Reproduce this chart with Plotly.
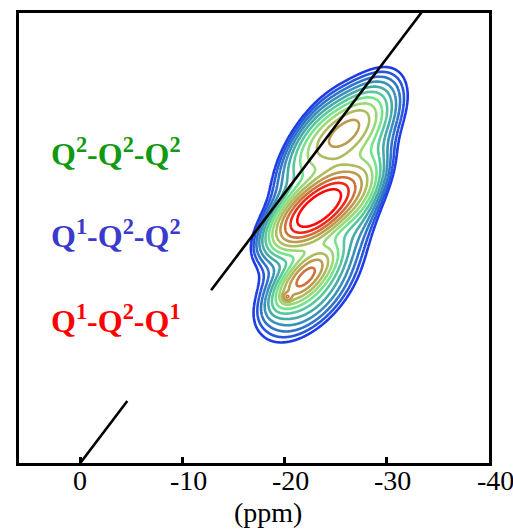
import numpy as np
import plotly.graph_objects as go

# --- 29Si DQ-SQ correlation spectrum, modelled as a sum of 2D Gaussian peaks ---
# envelope, Q1-Q2-Q2 (main), Q1-Q2-Q1 core + base, Q2-Q2-Q2 core + base,
# shoulder, left and right wings
peak_sq = [-24.94, -23.28, -22.00, -22.49, -25.62, -27.48, -20.24, -22.00, -27.87]
peak_dq = [-41.68, -37.70, -27.54, -26.22, -48.75, -51.69, -24.59, -46.10, -40.21]
peak_sd_sq = [3.794, 2.441, 1.644, 3.006, 2.275, 2.276, 0.293, 2.198, 1.439]
peak_sd_dq = [9.012, 3.110, 2.476, 4.971, 3.085, 3.748, 0.442, 5.292, 5.000]
peak_rho = [0.698, 0.672, 0.713, 0.530, 0.594, 0.508, 0.0, 0.720, 0.541]
peak_amp = [0.14, 1.00, 0.37, 0.15, 0.27, 0.085, 0.18, 0.09, 0.08]

# geometric contour levels (relative intensity)
level_low = 0.04
level_high = 0.80
n_levels = 13
level_colors = ['#1e3ce6', '#2856dc', '#2f74c8', '#3a90b8', '#46aaa8', '#58c89c',
                '#74e48c', '#9ad878', '#aebc60', '#bc9a4e', '#d0703a', '#ec2a1c', '#ff0808']

# axes
sq_range = [6, -40]
dq_range = [0, -66.7]
tick_vals = [0, -10, -20, -30, -40]
tick_text = ['0', '-10', '-20', '-30', '-40']
# diagonal DQ = 2*SQ, drawn as two pieces
diag_pieces = [(0.0, -4.6), (-12.8, -34.0)]

labels = ['Q<sup>2</sup>-Q<sup>2</sup>-Q<sup>2</sup>',
          'Q<sup>1</sup>-Q<sup>2</sup>-Q<sup>2</sup>',
          'Q<sup>1</sup>-Q<sup>2</sup>-Q<sup>1</sup>']
label_colors = ['#119a11', '#3a3acd', '#ff0000']
label_y = [0.691, 0.508, 0.320]

sq = np.arange(-13.0, -37.0, -0.05)
dq = np.arange(-12.0, -66.0, -0.1)
X, Y = np.meshgrid(sq, dq)
Z = np.zeros_like(X)
for cx, cy, sx, sy, r, a in zip(peak_sq, peak_dq, peak_sd_sq, peak_sd_dq, peak_rho, peak_amp):
    u = (X - cx) / sx
    v = (Y - cy) / sy
    q = (u * u - 2 * r * u * v + v * v) / (1 - r * r)
    Z += a * np.exp(-0.5 * q)
logZ = np.round(np.log10(np.maximum(Z, 1e-4)), 4)

lo, hi = np.log10(level_low), np.log10(level_high)
step = (hi - lo) / (n_levels - 1)
cscale = [[i / (n_levels - 1), c] for i, c in enumerate(level_colors)]

fig = go.Figure()
fig.add_trace(go.Contour(
    x=np.round(sq, 3), y=np.round(dq, 3), z=logZ,
    contours=dict(coloring='lines', start=lo, end=hi + step * 0.01, size=step),
    colorscale=cscale, zmin=lo, zmax=hi,
    line=dict(width=2.6, smoothing=1.0),
    showscale=False, hoverinfo='skip'))

for x0, x1 in diag_pieces:
    xs = np.array([x0, x1])
    fig.add_trace(go.Scatter(x=xs, y=2 * xs, mode='lines',
                             line=dict(color='black', width=2.6),
                             showlegend=False, hoverinfo='skip'))

serif = 'Liberation Serif, Times New Roman, serif'
for txt, col, yy in zip(labels, label_colors, label_y):
    fig.add_annotation(text='<b>' + txt + '</b>', x=0.064, y=yy, xref='paper', yref='paper',
                       xanchor='left', yanchor='middle', showarrow=False,
                       font=dict(family=serif, size=32, color=col))

# tick labels of the SQ axis
for v, t in zip(tick_vals, tick_text):
    fig.add_annotation(text=t, x=v, xref='x', y=-0.038, yref='paper',
                       xanchor='center', yanchor='middle', showarrow=False,
                       xshift=6 if t.startswith('-') else 0,
                       font=dict(family=serif, size=28, color='black'))

fig.add_annotation(text='(ppm)', x=0.53, y=-0.11, xref='paper', yref='paper',
                   xanchor='center', yanchor='middle', showarrow=False,
                   font=dict(family=serif, size=28, color='black'))

fig.update_xaxes(range=sq_range, tickvals=tick_vals, showticklabels=False,
                 ticks='inside', ticklen=6, tickwidth=2.5, tickcolor='black',
                 showline=True, linewidth=2.5, linecolor='black', mirror=True,
                 showgrid=False, zeroline=False)
fig.update_yaxes(range=dq_range, showticklabels=False, ticks='',
                 showline=True, linewidth=2.5, linecolor='black', mirror=True,
                 showgrid=False, zeroline=False)
fig.update_layout(width=513, height=531, margin=dict(l=19, r=24, t=10, b=68),
                  plot_bgcolor='white', paper_bgcolor='white', showlegend=False)
fig.write_html('out.html')
